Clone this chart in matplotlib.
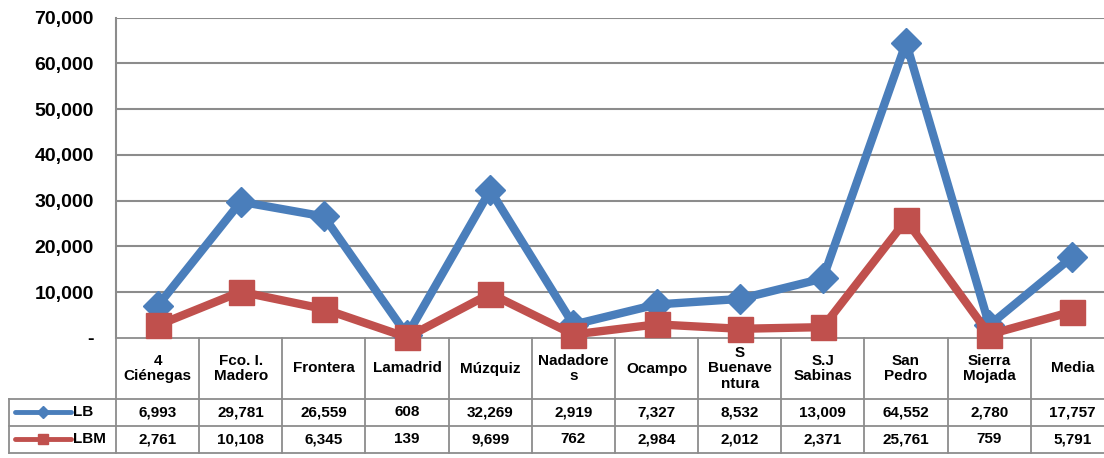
import matplotlib
matplotlib.use("Agg")
import matplotlib.pyplot as plt
import numpy as np

plt.rcParams["font.family"] = ["Liberation Sans", "DejaVu Sans"]
plt.rcParams["font.weight"] = "bold"

# ── Data ──
CATEGORIES = ["4\nCiénegas", "Fco. I.\nMadero", "Frontera", "Lamadrid", "Múzquiz",
              "Nadadore\ns", "Ocampo", "S\nBuenave\nntura", "S.J\nSabinas",
              "San\nPedro", "Sierra\nMojada", "Media"]
LB = [6993, 29781, 26559, 608, 32269, 2919, 7327, 8532, 13009, 64552, 2780, 17757]
LBM = [2761, 10108, 6345, 139, 9699, 762, 2984, 2012, 2371, 25761, 759, 5791]
YTICKS = [0, 10000, 20000, 30000, 40000, 50000, 60000, 70000]

BLUE = "#4A7EBB"
RED = "#C0504D"
GRID = "#8C8C8C"

W, H = 1104, 458
fig = plt.figure(figsize=(W / 100, H / 100), dpi=100)

# pixel layout
x_left, x_right = 116, 1114
y_top, y_zero = 17.7, 338
tab_left, tab_bottom = 9, 453
col_w = (x_right - x_left) / len(CATEGORIES)

# ── Table (below the plot) ──
axt = fig.add_axes([tab_left / W, (H - tab_bottom) / H,
                    (x_right - tab_left) / W, (tab_bottom - y_zero) / H])
leg_x0 = -(x_left - tab_left) / col_w
axt.set_xlim(leg_x0, len(CATEGORIES))
axt.set_ylim(0, 1)
axt.axis("off")
r_lbm = (tab_bottom - 425.5) / (tab_bottom - y_zero)
r_lb = (tab_bottom - 399) / (tab_bottom - y_zero)
lw_t = 1.3
axt.plot([0, len(CATEGORIES)], [1, 1], color=GRID, lw=lw_t, clip_on=False)
for yy in [0, r_lbm, r_lb]:
    axt.plot([leg_x0, len(CATEGORIES)], [yy, yy], color=GRID, lw=lw_t, clip_on=False)
for i in range(len(CATEGORIES) + 1):
    axt.plot([i, i], [0, 1], color=GRID, lw=lw_t, clip_on=False)
axt.plot([leg_x0, leg_x0], [0, r_lb], color=GRID, lw=lw_t, clip_on=False)

xc = np.arange(len(CATEGORIES)) + 0.5
for i, lab in enumerate(CATEGORIES):
    axt.text(xc[i], (1 + r_lb) / 2, lab, ha="center", va="center", fontsize=11,
             fontweight="bold", linespacing=1.15)
    axt.text(xc[i], (r_lb + r_lbm) / 2, f"{LB[i]:,}", ha="center", va="center",
             fontsize=11, fontweight="bold")
    axt.text(xc[i], r_lbm / 2, f"{LBM[i]:,}", ha="center", va="center",
             fontsize=11, fontweight="bold")

# legend keys inside the table
kx0 = (15 - x_left) / col_w
kx1 = (71 - x_left) / col_w
for yy, col, mk, ms, name in [((r_lb + r_lbm) / 2, BLUE, "D", 6, "LB"),
                              (r_lbm / 2, RED, "s", 7, "LBM")]:
    axt.plot([kx0, kx1], [yy, yy], color=col, lw=3.5, solid_capstyle="round")
    axt.plot([(kx0 + kx1) / 2], [yy], marker=mk, ms=ms, color=col)
    axt.text((73 - x_left) / col_w, yy, name, ha="left", va="center",
             fontsize=11, fontweight="bold")

# ── Line plot ──
ax = fig.add_axes([x_left / W, (H - y_zero) / H,
                   (x_right - x_left) / W, (y_zero - y_top) / H])
ax.patch.set_alpha(0)
ax.set_xlim(0, len(CATEGORIES))
ax.set_ylim(0, 70000)
ax.set_yticks(YTICKS)
ax.set_yticklabels(["-" if v == 0 else f"{v:,}" for v in YTICKS],
                   fontsize=14, fontweight="bold")
ax.tick_params(axis="y", length=0, pad=16)
ax.set_xticks([])
for v in YTICKS[1:]:
    ax.axhline(v, color=GRID, lw=1.5, zorder=1)
for s in ["top", "right", "bottom"]:
    ax.spines[s].set_visible(False)
ax.spines["left"].set_color(GRID)
ax.spines["left"].set_linewidth(1.5)

ax.plot(xc, LB, color=BLUE, lw=6, marker="D", ms=15, zorder=4, clip_on=False)
ax.plot(xc, LBM, color=RED, lw=6, marker="s", ms=18, zorder=5, clip_on=False)

fig.savefig("out.png", dpi=100)
